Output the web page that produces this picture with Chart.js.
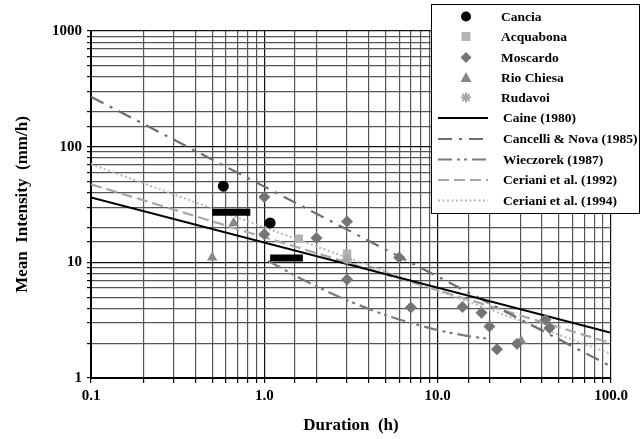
<!DOCTYPE html>
<html>
<head>
<meta charset="utf-8">
<script src="https://cdn.jsdelivr.net/npm/chart.js@4/dist/chart.umd.min.js"></script>
<style>
  html, body { margin: 0; padding: 0; background: #fff; }
  #wrap { width: 643px; height: 439px; }
</style>
</head>
<body>
<div id="wrap"><canvas id="ids"></canvas></div>
<script>
// observed debris-flow events: duration (h) and mean intensity (mm/h)
const canciaDur = [0.58, 1.08];
const canciaInt = [45.5, 21.9];
const acquabonaDur = [1.58, 3.0];
const acquabonaInt = [16.0, 11.9];
const moscardoDur = [1.0, 3.0, 1.0, 2.0, 3.0, 6.0, 7.0, 13.9, 17.9, 19.9, 22.0, 28.7, 41.9, 44.2];
const moscardoInt = [36.7, 22.5, 17.5, 16.2, 7.1, 11.0, 4.06, 4.1, 3.67, 2.79, 1.77, 1.98, 3.19, 2.7];
const rioChiesaDur = [0.5, 0.665, 30.3];
const rioChiesaInt = [11.0, 21.9, 2.1];
const rudavoiDur = [3.0];
const rudavoiInt = [10.6];

// Cancia duration ranges (thick black bars)
const canciaRangeDur = [[0.5, 0.83], [1.08, 1.67]];
const canciaRangeInt = [27.1, 10.9];

// threshold curves
const caineDur = [0.1, 100];
const caineInt = [36.4, 2.46];
const cancelliDur = [0.1, 100];
const cancelliInt = [270, 1.26];
const wieczorekDur = [1.05, 1.5, 2, 3, 5, 7, 10, 15, 19];
const wieczorekInt = [10.3, 7.7, 6.2, 4.7, 3.5, 3.0, 2.6, 2.3, 2.2];
const ceriani92Dur = [0.1, 100];
const ceriani92Int = [47.3, 2.0];
const ceriani94Dur = [0.1, 100];
const ceriani94Int = [70.5, 1.62];

const xLabels = ['0.1', '1.0', '10.0', '100.0'];
const yLabels = ['1', '10', '100', '1000'];

const pts = (xs, ys) => xs.map((x, i) => ({ x: x, y: ys[i] }));
const isDecade = v => Math.abs(Math.log10(v) - Math.round(Math.log10(v))) < 1e-6;
const serif = '"Liberation Serif", "Times New Roman", serif';

// lower order is painted last (on top)
const datasets = [
  { label: 'Cancia', data: pts(canciaDur, canciaInt), pointStyle: 'circle', pointRadius: 5.5, order: 0,
    backgroundColor: '#000', borderColor: '#000', borderWidth: 0 },
  { label: 'Acquabona', data: pts(acquabonaDur, acquabonaInt), pointStyle: 'rect', pointRadius: 6, order: 2,
    backgroundColor: '#b4b4b4', borderColor: '#b4b4b4', borderWidth: 0 },
  { label: 'Moscardo', data: pts(moscardoDur, moscardoInt), pointStyle: 'rectRot', pointRadius: 6, order: 1,
    backgroundColor: '#747474', borderColor: '#747474', borderWidth: 0 },
  { label: 'Rio Chiesa', data: pts(rioChiesaDur, rioChiesaInt), pointStyle: 'triangle', pointRadius: 6, order: 1,
    backgroundColor: '#888', borderColor: '#888', borderWidth: 0 },
  { label: 'Rudavoi', data: pts(rudavoiDur, rudavoiInt), pointStyle: 'star', pointRadius: 5, order: 1,
    backgroundColor: '#aaa', borderColor: '#a6a6a6', borderWidth: 2.5 },
  { label: 'Caine (1980)', data: pts(caineDur, caineInt), showLine: true, pointRadius: 0, order: 5,
    borderColor: '#000', borderWidth: 2 },
  { label: 'Cancelli & Nova (1985)', data: pts(cancelliDur, cancelliInt), showLine: true, pointRadius: 0, order: 5,
    borderColor: '#6e6e6e', borderWidth: 2.2, borderDash: [14, 7, 3, 7] },
  { label: 'Wieczorek (1987)', data: pts(wieczorekDur, wieczorekInt), showLine: true, pointRadius: 0, order: 5,
    borderColor: '#7a7a7a', borderWidth: 2.2, borderDash: [14, 5, 3, 4, 3, 5], tension: 0.3 },
  { label: 'Ceriani et al. (1992)', data: pts(ceriani92Dur, ceriani92Int), showLine: true, pointRadius: 0, order: 5,
    borderColor: '#a8a8a8', borderWidth: 2.2, borderDash: [11, 5] },
  { label: 'Ceriani et al. (1994)', data: pts(ceriani94Dur, ceriani94Int), showLine: true, pointRadius: 0, order: 5,
    borderColor: '#b8b8b8', borderWidth: 2, borderDash: [2, 2.5] }
];

canciaRangeDur.forEach((r, i) => {
  datasets.push({ label: '', data: pts(r, [canciaRangeInt[i], canciaRangeInt[i]]), showLine: true, order: -1,
    pointRadius: 0, borderColor: '#000', borderWidth: 7, borderCapStyle: 'butt', inLegend: false });
});

// legend box drawn on top of the plot, upper right
const boxLegend = {
  id: 'boxLegend',
  afterDraw(chart) {
    const ctx = chart.ctx;
    const bx = 431, by = 4, bw = 208, bh = 209;
    ctx.save();
    ctx.fillStyle = '#fff';
    ctx.fillRect(bx, by, bw, bh);
    ctx.strokeStyle = '#000';
    ctx.lineWidth = 1;
    ctx.strokeRect(bx + 0.5, by + 0.5, bw, bh);
    const rows = [16.5, 36.5, 57.5, 77.5, 97.5, 118, 139, 159.5, 180, 200.5];
    ctx.font = 'bold 13.5px ' + serif;
    ctx.textBaseline = 'middle';
    chart.data.datasets.filter(d => d.inLegend !== false).forEach((d, i) => {
      const y = rows[i];
      if (d.showLine) {
        ctx.strokeStyle = d.borderColor;
        ctx.lineWidth = d.borderWidth;
        ctx.setLineDash(d.borderDash || []);
        ctx.beginPath();
        ctx.moveTo(438, y);
        ctx.lineTo(488, y);
        ctx.stroke();
        ctx.setLineDash([]);
      } else {
        const cx = 466, r = 5;
        ctx.fillStyle = d.backgroundColor;
        ctx.strokeStyle = d.borderColor;
        ctx.beginPath();
        if (d.pointStyle === 'circle') {
          ctx.arc(cx, y, r, 0, Math.PI * 2);
          ctx.fill();
        } else if (d.pointStyle === 'rect') {
          ctx.fillRect(cx - 4.5, y - 4.5, 9, 9);
        } else if (d.pointStyle === 'rectRot') {
          ctx.moveTo(cx, y - 5.5); ctx.lineTo(cx + 5.5, y); ctx.lineTo(cx, y + 5.5); ctx.lineTo(cx - 5.5, y);
          ctx.closePath(); ctx.fill();
        } else if (d.pointStyle === 'triangle') {
          ctx.moveTo(cx, y - 5.5); ctx.lineTo(cx + 5.5, y + 4.5); ctx.lineTo(cx - 5.5, y + 4.5);
          ctx.closePath(); ctx.fill();
        } else {
          ctx.lineWidth = 2;
          for (let k = 0; k < 4; k++) {
            const a = k * Math.PI / 4;
            ctx.moveTo(cx - Math.cos(a) * 5, y - Math.sin(a) * 5);
            ctx.lineTo(cx + Math.cos(a) * 5, y + Math.sin(a) * 5);
          }
          ctx.stroke();
        }
      }
      ctx.fillStyle = '#000';
      ctx.fillText(d.label, i < 5 ? 501 : 503, y + 1);
    });
    ctx.restore();
  }
};

const gridColor = c => (c.tick && isDecade(c.tick.value)) ? '#111' : '#555';

new Chart(document.getElementById('ids').getContext('2d'), {
  type: 'scatter',
  data: { datasets: datasets },
  options: {
    responsive: true,
    maintainAspectRatio: false,
    animation: false,
    layout: { padding: { top: 31, right: 32, left: 0, bottom: 0 } },
    plugins: { legend: { display: false }, tooltip: { enabled: false } },
    scales: {
      x: {
        type: 'logarithmic',
        min: 0.1,
        max: 100,
        afterFit: s => { s.height = 61; },
        border: { color: '#000', width: 2 },
        grid: { color: gridColor, lineWidth: 1.2, tickLength: 5, tickColor: '#000' },
        ticks: {
          autoSkip: false, maxRotation: 0, padding: 4, color: '#000',
          font: { family: serif, size: 15, weight: 'bold' },
          callback: v => isDecade(v) ? xLabels[Math.round(Math.log10(v)) + 1] : ''
        },
        title: {
          display: true, text: 'Duration  (h)', color: '#000',
          font: { family: serif, size: 17, weight: 'bold' },
          padding: { top: 0, bottom: 3 }
        }
      },
      y: {
        type: 'logarithmic',
        min: 1,
        max: 1000,
        afterFit: s => { s.width = 91; },
        border: { color: '#000', width: 2 },
        grid: { color: gridColor, lineWidth: 1.2, tickLength: 4, tickColor: '#000' },
        ticks: {
          autoSkip: false, padding: 5, color: '#000',
          font: { family: serif, size: 15, weight: 'bold' },
          callback: v => isDecade(v) ? yLabels[Math.round(Math.log10(v))] : ''
        },
        title: {
          display: true, text: 'Mean  Intensity  (mm/h)', color: '#000',
          font: { family: serif, size: 17, weight: 'bold' },
          padding: { top: 12, bottom: 0 }
        }
      }
    }
  },
  plugins: [boxLegend]
});
</script>
</body>
</html>
